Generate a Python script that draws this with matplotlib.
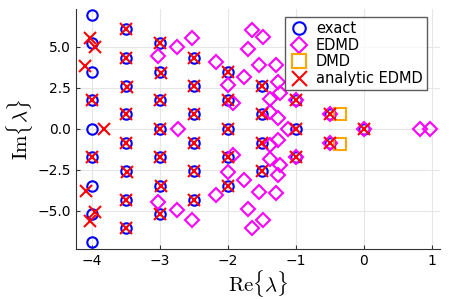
import matplotlib
matplotlib.use("Agg")
import matplotlib.pyplot as plt

plt.rcParams['mathtext.fontset'] = 'cm'
plt.rcParams['font.family'] = ['DejaVu Sans']

# exact eigenvalues
exact_re = [-4.0]*9 + [-3.5]*8 + [-3.0]*7 + [-2.5]*6 + [-2.0]*5 + [-1.5]*4 + [-1.0]*3 + [-0.5]*2 + [0.0]
exact_im = [6.93, 5.20, 3.46, 1.73, 0.0, -1.73, -3.46, -5.20, -6.93,
            6.06, 4.33, 2.60, 0.87, -0.87, -2.60, -4.33, -6.06,
            5.20, 3.46, 1.73, 0.0, -1.73, -3.46, -5.20,
            4.33, 2.60, 0.87, -0.87, -2.60, -4.33,
            3.46, 1.73, 0.0, -1.73, -3.46,
            2.60, 0.87, -0.87, -2.60,
            1.73, 0.0, -1.73,
            0.87, -0.87,
            0.0]

# EDMD eigenvalues
edmd_re = [-3.03, -3.03, -2.75, -2.75, -2.53, -2.53, -2.74, -2.17, -2.17,
           -1.64, -1.64, -1.48, -1.48, -1.70, -1.70, -1.55, -1.55, -1.29, -1.29,
           -1.77, -1.77, -2.00, -2.00, -1.26, -1.26, -1.92, -1.92, -1.38, -1.38,
           -1.24, -1.24, -1.38, -1.38, -1.26, -1.26, -1.11,
           -1.00, -1.00, -0.50, -0.50, 0.00, 0.82, 0.97]
edmd_im = [4.46, -4.46, 4.97, -4.97, 5.54, -5.54, 0.0, 4.06, -4.06,
           6.04, -6.04, 5.57, -5.57, 4.88, -4.88, 3.86, -3.86, 3.90, -3.90,
           3.15, -3.15, 2.64, -2.64, 2.82, -2.82, 1.58, -1.58, 1.83, -1.83,
           2.18, -2.18, 1.00, -1.00, 0.67, -0.67, 0.0,
           1.73, -1.73, 0.87, -0.87, 0.0, 0.0, 0.0]

# DMD eigenvalues
dmd_re = [-0.35, -0.35]
dmd_im = [0.90, -0.90]

# analytic EDMD eigenvalues
an_re = [-4.03, -3.96, -4.10, -4.0, -3.82, -4.0, -4.09, -3.96, -4.03,
         -3.5, -3.5, -3.48, -3.5, -3.5, -3.48, -3.5, -3.5,
         -3.0, -2.98, -3.0, -3.0, -3.0, -2.98, -3.0,
         -2.5, -2.5, -2.5, -2.5, -2.5, -2.5,
         -2.0, -2.0, -2.0, -2.0, -2.0,
         -1.5, -1.5, -1.5, -1.5,
         -1.0, -1.0, -1.0,
         -0.5, -0.5,
         0.0]
an_im = [5.51, 5.00, 3.80, 1.73, 0.0, -1.73, -3.82, -5.05, -5.62,
         6.06, 4.33, 2.57, 0.87, -0.87, -2.63, -4.33, -6.06,
         5.20, 3.40, 1.73, 0.0, -1.73, -3.50, -5.20,
         4.33, 2.60, 0.87, -0.87, -2.60, -4.33,
         3.46, 1.73, 0.0, -1.73, -3.46,
         2.60, 0.87, -0.87, -2.60,
         1.73, 0.0, -1.73,
         0.87, -0.87,
         0.0]

fig = plt.figure(figsize=(4.49, 2.99), dpi=100)
ax = fig.add_axes([0.169, 0.166, 0.811, 0.803])

ax.plot(exact_re, exact_im, 'o', ls='none', mfc='none', mec=(0, 0, 1), mew=1.5, ms=7.5, label='exact')
ax.plot(edmd_re, edmd_im, 'D', ls='none', mfc='none', mec=(1, 0, 1), mew=1.5, ms=7, label='EDMD')
ax.plot(dmd_re, dmd_im, 's', ls='none', mfc='none', mec=(1, 0.65, 0), mew=1.5, ms=8, label='DMD')
ax.plot(an_re, an_im, 'x', ls='none', color=(1, 0, 0), mew=1.5, ms=9, label='analytic EDMD')

ax.set_xlim(-4.235, 1.118)
ax.set_ylim(-7.35, 7.28)
ax.set_xticks([-4, -3, -2, -1, 0, 1])
ax.set_xticklabels(['\u22124', '\u22123', '\u22122', '\u22121', '0', '1'])
ax.set_yticks([-5.0, -2.5, 0.0, 2.5, 5.0])
ax.set_yticklabels(['\u22125.0', '\u22122.5', '0.0', '2.5', '5.0'])
ax.tick_params(direction='in', labelsize=10, length=3, color='#333333')
ax.grid(True, color='#e6e6e6', lw=0.8)
ax.set_axisbelow(True)
for s in ['top', 'right']:
    ax.spines[s].set_visible(False)
for s in ['left', 'bottom']:
    ax.spines[s].set_color('#333333')

ax.set_xlabel(r'$\mathrm{Re}\{\lambda\}$', fontsize=15, labelpad=0)
ax.set_ylabel(r'$\mathrm{Im}\{\lambda\}$', fontsize=15, labelpad=2)

leg = ax.legend(loc='upper right', bbox_to_anchor=(0.964, 0.968), fontsize=10.5, frameon=True,
                fancybox=False, edgecolor='#333333', handlelength=1.3, handletextpad=0.5,
                borderpad=0.3, labelspacing=0.1, borderaxespad=0.0, markerscale=1.2)
leg.get_frame().set_linewidth(1.0)

fig.savefig('out.png', dpi=100)
